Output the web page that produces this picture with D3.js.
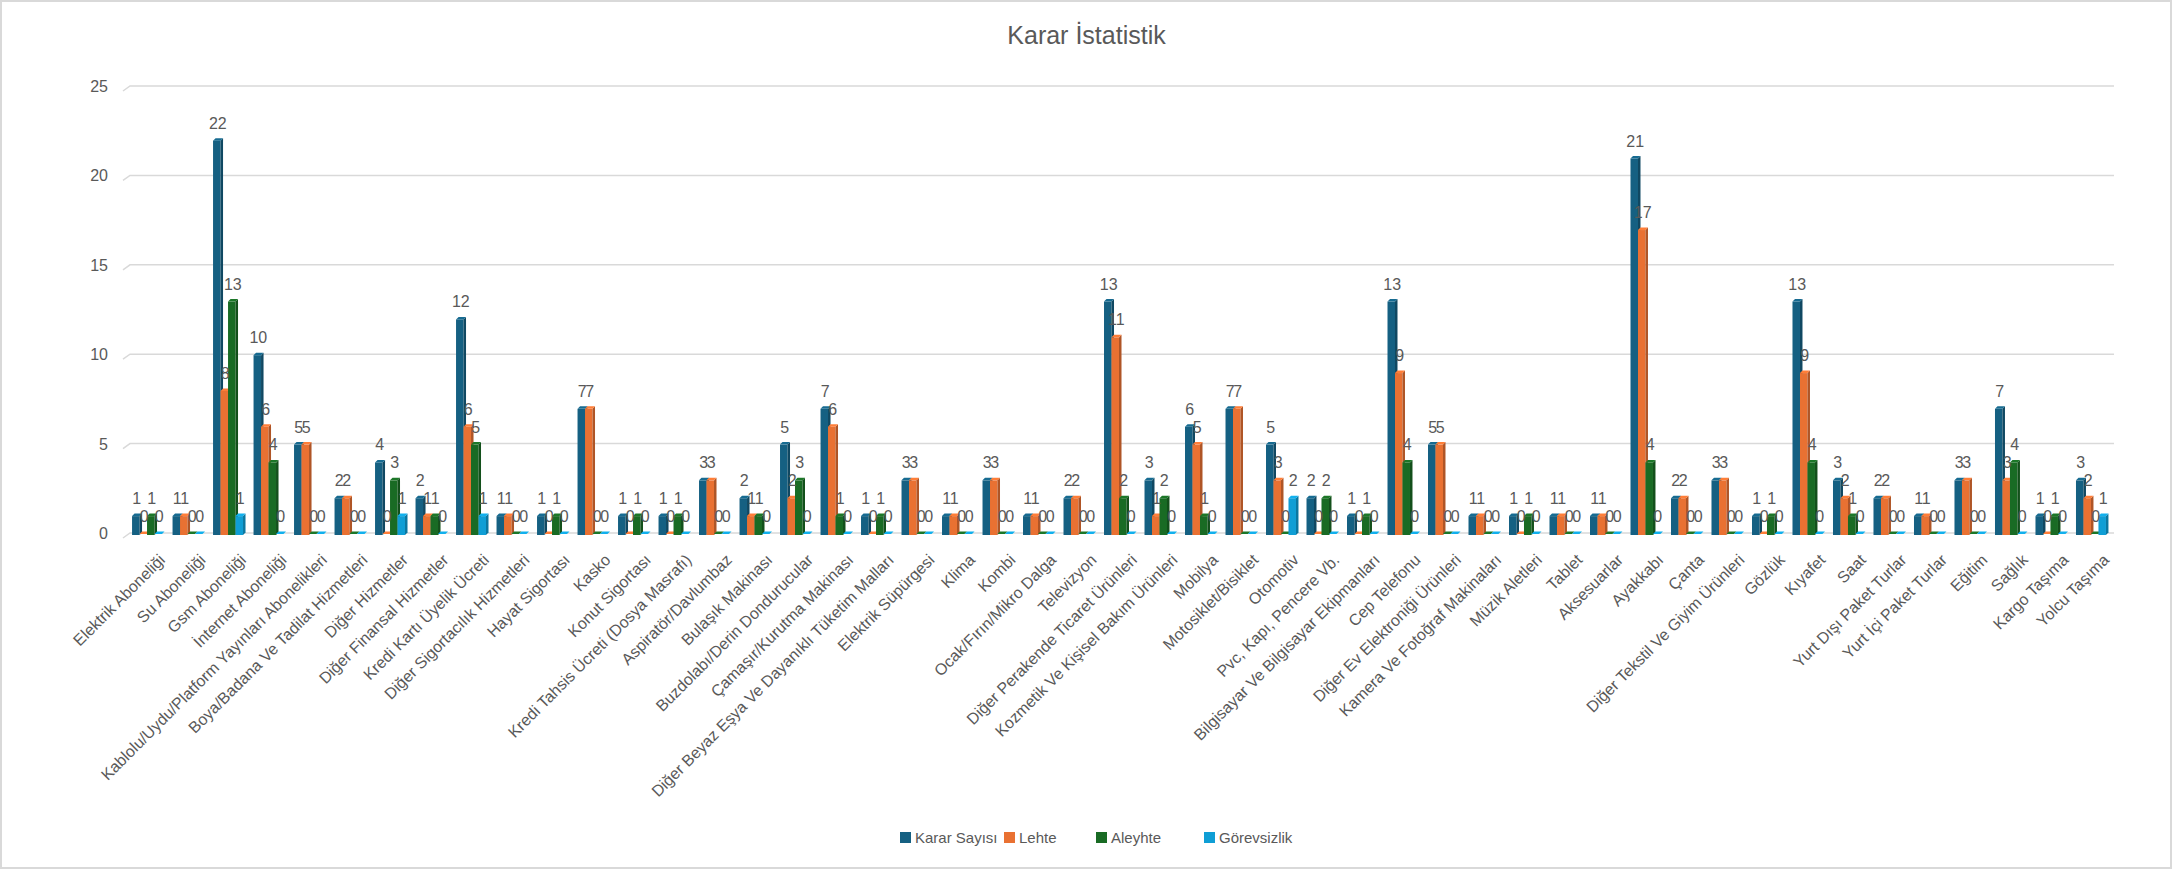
<!DOCTYPE html>
<html>
<head>
<meta charset="utf-8">
<script src="https://cdn.jsdelivr.net/npm/d3@7"></script>
<style>
  body { margin: 0; background: #fff; }
  svg text { fill: #595959; font-family: "Liberation Sans", Arial, sans-serif; }
</style>
</head>
<body>
<svg id="chart" width="2173" height="870"></svg>
<script>
const categories = [
  'Elektrik Aboneliği', 'Su Aboneliği', 'Gsm Aboneliği', 'İnternet Aboneliği',
  'Kablolu/Uydu/Platform Yayınları Abonelikleri', 'Boya/Badana Ve Tadilat Hizmetleri',
  'Diğer Hizmetler', 'Diğer Finansal Hizmetler', 'Kredi Kartı Üyelik Ücreti',
  'Diğer Sigortacılık Hizmetleri', 'Hayat Sigortası', 'Kasko', 'Konut Sigortası',
  'Kredi Tahsis Ücreti (Dosya Masrafı)', 'Aspiratör/Davlumbaz', 'Bulaşık Makinası',
  'Buzdolabı/Derin Dondurucular', 'Çamaşır/Kurutma Makinası',
  'Diğer Beyaz Eşya Ve Dayanıklı Tüketim Malları', 'Elektrik Süpürgesi', 'Klima', 'Kombi',
  'Ocak/Fırın/Mikro Dalga', 'Televizyon', 'Diğer Perakende Ticaret Ürünleri',
  'Kozmetik Ve Kişisel Bakım Ürünleri', 'Mobilya', 'Motosiklet/Bisiklet', 'Otomotiv',
  'Pvc, Kapı, Pencere Vb.', 'Bilgisayar Ve Bilgisayar Ekipmanları', 'Cep Telefonu',
  'Diğer Ev Elektroniği Ürünleri', 'Kamera Ve Fotoğraf Makinaları', 'Müzik Aletleri',
  'Tablet', 'Aksesuarlar', 'Ayakkabı', 'Çanta', 'Diğer Tekstil Ve Giyim Ürünleri',
  'Gözlük', 'Kıyafet', 'Saat', 'Yurt Dışı Paket Turlar', 'Yurt İçi Paket Turlar',
  'Eğitim', 'Sağlık', 'Kargo Taşıma', 'Yolcu Taşıma'
];
const kararSayisi = [1,1,22,10,5,2,4,2,12,1,1,7,1,1,3,2,5,7,1,3,1,3,1,2,13,3,6,7,5,2,1,13,5,1,1,1,1,21,2,3,1,13,3,2,1,3,7,1,3];
const lehte       = [0,1,8,6,5,2,0,1,6,1,0,7,0,0,3,1,2,6,0,3,1,3,1,2,11,1,5,7,3,0,0,9,5,1,0,1,1,17,2,3,0,9,2,2,1,3,3,0,2];
const aleyhte     = [1,0,13,4,0,0,3,1,5,0,1,0,1,1,0,1,3,1,1,0,0,0,0,0,2,2,1,0,0,2,1,4,0,0,1,0,0,4,0,0,1,4,1,0,0,0,4,1,0];
const gorevsizlik = [0,0,1,0,0,0,1,0,1,0,0,0,0,0,0,0,0,0,0,0,0,0,0,0,0,0,0,0,2,0,0,0,0,0,0,0,0,0,0,0,0,0,0,0,0,0,0,0,1];
const seriesNames = ['Karar Sayısı', 'Lehte', 'Aleyhte', 'Görevsizlik'];
const seriesColors = ['#156082', '#E97132', '#196B24', '#0F9ED5'];
const yTicks = [0, 5, 10, 15, 20, 25];

const W = 2173, H = 870;
const svg = d3.select('#chart');
const depth = 2.5;

// outer chart frame
svg.append('rect')
  .attr('x', 1).attr('y', 1).attr('width', W - 3).attr('height', H - 3)
  .attr('fill', '#fff').attr('stroke', '#d9d9d9').attr('stroke-width', 2);

svg.append('text')
  .attr('x', W / 2).attr('y', 44)
  .attr('text-anchor', 'middle')
  .style('font-family', '"Liberation Sans Narrow", "Arial Narrow", sans-serif')
  .style('font-size', '25px')
  .text('Karar İstatistik');

const x0 = d3.scaleBand().domain(categories).range([128, 2110]).paddingInner(0.26).paddingOuter(0.1);
const x1 = d3.scaleBand().domain(seriesNames).range([0, x0.bandwidth()]);
const y = d3.scaleLinear().domain([0, 25]).range([533, 86]);

// gridlines with a little perspective foot on the left
const grid = svg.append('g');
yTicks.forEach(t => {
  grid.append('path')
    .attr('d', `M123,${y(t) + 5}L130,${y(t)}L2114,${y(t)}`)
    .attr('fill', 'none').attr('stroke', '#d9d9d9').attr('stroke-width', 1.5);
});

svg.append('g').selectAll('text')
  .data(yTicks)
  .join('text')
  .attr('x', 108).attr('y', d => y(d) + 6)
  .attr('text-anchor', 'end')
  .style('font-size', '16px')
  .text(d => d);

const seriesData = [kararSayisi, lehte, aleyhte, gorevsizlik];
const rows = [];
categories.forEach((c, i) => {
  seriesNames.forEach((s, j) => {
    rows.push({ cat: c, series: s, value: seriesData[j][i], color: seriesColors[j] });
  });
});

const bars = svg.append('g').selectAll('g')
  .data(rows)
  .join('g');

bars.each(function(d) {
  const g = d3.select(this);
  const bx = x0(d.cat) + x1(d.series);
  const w = x1.bandwidth();
  const top = y(d.value) + 1;
  const bottom = y(0) + 2;
  const col = d3.color(d.color);
  if (d.value > 0) {
    g.append('rect')
      .attr('x', bx).attr('y', top).attr('width', w).attr('height', bottom - top)
      .attr('fill', d.color);
    g.append('path')
      .attr('d', `M${bx + w},${top}L${bx + w + depth},${top - depth}L${bx + w + depth},${bottom - depth}L${bx + w},${bottom}Z`)
      .attr('fill', col.darker(0.8));
  }
  g.append('path')
    .attr('d', `M${bx},${top}L${bx + depth},${top - depth}L${bx + w + depth},${top - depth}L${bx + w},${top}Z`)
    .attr('fill', col.brighter(0.3));
});

svg.append('g').selectAll('text')
  .data(rows)
  .join('text')
  .attr('x', d => x0(d.cat) + x1(d.series) + x1.bandwidth() / 2 + 1)
  .attr('y', d => y(d.value) - 11)
  .attr('text-anchor', 'middle')
  .style('font-size', '16px')
  .text(d => d.value);

svg.append('g').selectAll('text')
  .data(categories)
  .join('text')
  .attr('transform', d => `translate(${x0(d) + x0.bandwidth() / 2 + 15},${557}) rotate(-45)`)
  .attr('text-anchor', 'end')
  .attr('dy', '0.35em')
  .style('font-size', '16px')
  .text(d => d);

// legend
const legendX = [900, 1004, 1096, 1204];
const legend = svg.append('g').selectAll('g')
  .data(seriesNames)
  .join('g')
  .attr('transform', (d, i) => `translate(${legendX[i]},838)`);
legend.append('rect')
  .attr('x', 0).attr('y', -6).attr('width', 11).attr('height', 11)
  .attr('fill', (d, i) => seriesColors[i]);
legend.append('text')
  .attr('x', 15).attr('y', 5)
  .style('font-size', '15px')
  .style('font-family', '"Liberation Sans Narrow", "Arial Narrow", sans-serif')
  .text(d => d);
</script>
</body>
</html>
